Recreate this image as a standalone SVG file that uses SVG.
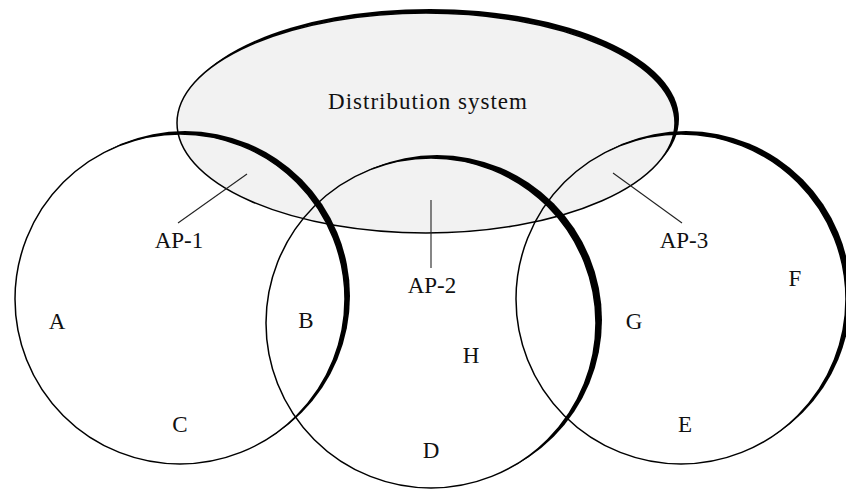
<svg xmlns="http://www.w3.org/2000/svg" width="846" height="490" viewBox="0 0 846 490">
  <style>
    .outline { fill: none; stroke: #000; stroke-width: 1.5; }
    .shadow { fill: #000; }
    .lbl { font-family: "Liberation Serif", "Times New Roman", serif; font-size: 23px; fill: #111; text-anchor: middle; }
    .lead { stroke: #222; stroke-width: 1.1; fill: none; }
  </style>
  <defs>
    <mask id="mE" maskUnits="userSpaceOnUse" x="0" y="0" width="846" height="490">
      <rect width="846" height="490" fill="#fff"/>
      <ellipse cx="426" cy="123" rx="249" ry="110" fill="#000"/>
    </mask>
    <mask id="m1" maskUnits="userSpaceOnUse" x="0" y="0" width="846" height="490">
      <rect width="846" height="490" fill="#fff"/>
      <circle cx="180" cy="299" r="165" fill="#000"/>
    </mask>
    <mask id="m2" maskUnits="userSpaceOnUse" x="0" y="0" width="846" height="490">
      <rect width="846" height="490" fill="#fff"/>
      <circle cx="431" cy="323" r="165" fill="#000"/>
    </mask>
    <mask id="m3" maskUnits="userSpaceOnUse" x="0" y="0" width="846" height="490">
      <rect width="846" height="490" fill="#fff"/>
      <circle cx="681" cy="299" r="165" fill="#000"/>
    </mask>
  </defs>
  <rect width="846" height="490" fill="#fff"/>

  <g id="distribution-system">
    <ellipse class="shadow" cx="430" cy="119" rx="249" ry="110" mask="url(#mE)"/>
    <ellipse cx="426" cy="123" rx="249" ry="110" fill="#f2f2f2" stroke="#000" stroke-width="1.5"/>
    <text class="lbl" x="428" y="109" letter-spacing="1">Distribution system</text>
  </g>

  <g id="bss-1">
    <circle class="shadow" cx="185" cy="296" r="165" mask="url(#m1)"/>
    <circle class="outline" cx="180" cy="299" r="165"/>
  </g>

  <g id="bss-2">
    <circle class="shadow" cx="437" cy="320" r="165" mask="url(#m2)"/>
    <circle class="outline" cx="431" cy="323" r="165"/>
  </g>

  <g id="bss-3">
    <circle class="shadow" cx="686" cy="296" r="165" mask="url(#m3)"/>
    <circle class="outline" cx="681" cy="299" r="165"/>
  </g>

  <g id="connectors">
    <line class="lead" x1="247" y1="174" x2="178" y2="223"/>
    <line class="lead" x1="431" y1="200" x2="431" y2="268"/>
    <line class="lead" x1="613" y1="173" x2="682" y2="223"/>
  </g>

  <g id="ap-1"><text class="lbl" x="179" y="248">AP-1</text></g>
  <g id="ap-2"><text class="lbl" x="432" y="293">AP-2</text></g>
  <g id="ap-3"><text class="lbl" x="684" y="248">AP-3</text></g>

  <g id="station-a"><text class="lbl" x="57" y="329">A</text></g>
  <g id="station-b"><text class="lbl" x="306" y="328">B</text></g>
  <g id="station-c"><text class="lbl" x="180" y="432">C</text></g>
  <g id="station-d"><text class="lbl" x="431" y="458">D</text></g>
  <g id="station-e"><text class="lbl" x="685" y="432">E</text></g>
  <g id="station-f"><text class="lbl" x="795" y="286">F</text></g>
  <g id="station-g"><text class="lbl" x="634" y="329">G</text></g>
  <g id="station-h"><text class="lbl" x="471" y="363">H</text></g>
</svg>
